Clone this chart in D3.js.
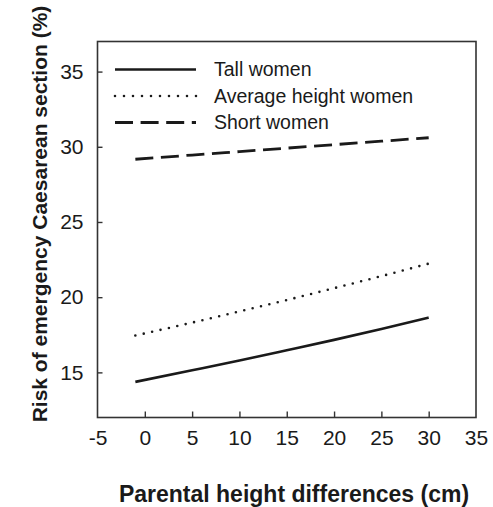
<!DOCTYPE html>
<html>
<head>
<meta charset="utf-8">
<script src="https://cdn.jsdelivr.net/npm/d3@7"></script>
<style>
  html, body { margin: 0; padding: 0; background: #fff; }
  svg { display: block; font-family: "Liberation Sans", Arial, Helvetica, sans-serif; }
</style>
</head>
<body>
<svg id="chart" width="493" height="507"></svg>
<script>
// Parental height difference (cm) at which risk is evaluated
const heightDiff = [-1, 5, 10, 15, 20, 25, 30];

// Risk of emergency Caesarean section (%) by maternal height group
const tallWomen    = [14.37, 15.14, 15.79, 16.47, 17.16, 17.89, 18.64];
const averageWomen = [17.45, 18.31, 19.05, 19.81, 20.60, 21.40, 22.23];
const shortWomen   = [29.17, 29.45, 29.68, 29.91, 30.14, 30.37, 30.60];

const seriesNames = ["Tall women", "Average height women", "Short women"];

const xTicks = [-5, 0, 5, 10, 15, 20, 25, 30, 35];
const yTicks = [15, 20, 25, 30, 35];

const svg = d3.select("#chart");
const ink = "#1a1a1a";

const plot = { left: 97.5, right: 476, top: 41.5, bottom: 417.5 };

const x = d3.scaleLinear().domain([-5, 35]).range([plot.left, plot.right]);
const y = d3.scaleLinear().domain([12, 37]).range([plot.bottom, plot.top]);

// Frame around the plotting area
svg.append("rect")
  .attr("x", plot.left).attr("y", plot.top)
  .attr("width", plot.right - plot.left).attr("height", plot.bottom - plot.top)
  .attr("fill", "none").attr("stroke", "#333").attr("stroke-width", 1.6);

// Plain hyphen-minus for negative tick values
const plainFormat = d => String(d);

// Axes with inward ticks
const xAxis = svg.append("g")
  .attr("transform", `translate(0,${plot.bottom})`)
  .call(d3.axisBottom(x).tickValues(xTicks).tickSizeInner(-6).tickSizeOuter(0).tickPadding(13)
        .tickFormat(plainFormat));
xAxis.select(".domain").remove();
xAxis.selectAll(".tick line").attr("stroke", "#333").attr("stroke-width", 1.4);
xAxis.selectAll(".tick").filter(d => d === -5 || d === 35).select("line").remove();
xAxis.selectAll("text").attr("font-size", 21).attr("fill", ink)
  .attr("font-family", "'Liberation Sans', Arial, sans-serif");

const yAxis = svg.append("g")
  .attr("transform", `translate(${plot.left},0)`)
  .call(d3.axisLeft(y).tickValues(yTicks).tickSizeInner(-5).tickSizeOuter(0).tickPadding(14)
        .tickFormat(plainFormat));
yAxis.select(".domain").remove();
yAxis.selectAll(".tick line").attr("stroke", "#333").attr("stroke-width", 1.4);
yAxis.selectAll("text").attr("font-size", 21).attr("fill", ink)
  .attr("font-family", "'Liberation Sans', Arial, sans-serif");

// Line styles per series
const styles = [
  { dash: null, cap: "butt", width: 2.6 },
  { dash: "0 8.6", cap: "round", width: 2.6 },
  { dash: "18 7.6", cap: "butt", width: 2.8 }
];

const seriesValues = [tallWomen, averageWomen, shortWomen];

const line = d3.line()
  .x(d => x(d[0]))
  .y(d => y(d[1]))
  .curve(d3.curveMonotoneX);

seriesValues.forEach((vals, i) => {
  const pts = heightDiff.map((h, j) => [h, vals[j]]);
  svg.append("path")
    .datum(pts)
    .attr("d", line)
    .attr("fill", "none")
    .attr("stroke", ink)
    .attr("stroke-width", styles[i].width)
    .attr("stroke-linecap", styles[i].cap)
    .attr("stroke-dasharray", styles[i].dash);
});

// Legend
const legendRows = [69.5, 96, 122.5];
seriesNames.forEach((name, i) => {
  const g = svg.append("g");
  g.append("line")
    .attr("x1", 115).attr("x2", i === 1 ? 197 : 196)
    .attr("y1", legendRows[i]).attr("y2", legendRows[i])
    .attr("stroke", ink)
    .attr("stroke-width", styles[i].width)
    .attr("stroke-linecap", styles[i].cap)
    .attr("stroke-dasharray", i === 1 ? "0 9" : styles[i].dash);
  g.append("text")
    .attr("x", 214).attr("y", legendRows[i])
    .attr("dy", "0.35em")
    .attr("font-size", 19.5)
    .attr("fill", ink)
    .text(name);
});

// Axis titles
svg.append("text")
  .attr("x", 294).attr("y", 501.5)
  .attr("text-anchor", "middle")
  .attr("font-size", 23).attr("font-weight", "bold").attr("fill", ink)
  .text("Parental height differences (cm)");

svg.append("text")
  .attr("transform", "translate(47,214) rotate(-90)")
  .attr("text-anchor", "middle")
  .attr("font-size", 21).attr("font-weight", "bold").attr("fill", ink)
  .text("Risk of emergency Caesarean section (%)");
</script>
</body>
</html>
